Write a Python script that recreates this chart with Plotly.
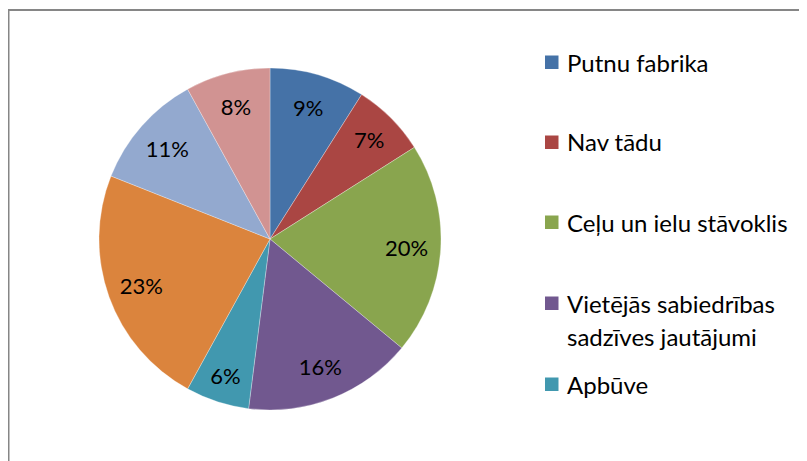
import plotly.graph_objects as go

# Data
categories = ["Putnu fabrika", "Nav tādu", "Ceļu un ielu stāvoklis",
              "Vietējās sabiedrības sadzīves jautājumi", "Apbūve",
              "Kategorija 6", "Kategorija 7", "Kategorija 8"]
values = [9, 7, 20, 16, 6, 23, 11, 8]
colors = ["#4572A7", "#AA4643", "#89A54E", "#71588F", "#4198AF",
          "#DB843D", "#93A9CF", "#D19392"]

# Legend entries visible in the reference (the rest is cut off)
legend_lines = [["Putnu fabrika"], ["Nav tādu"], ["Ceļu un ielu stāvoklis"],
                ["Vietējās sabiedrības", "sadzīves jautājumi"], ["Apbūve"]]

W, H = 807, 461
OFF = 8  # page body margin offset
FONT = "Lato"


def px(x):
    return (x - OFF) / W


def py(y):
    return 1 - (y - OFF) / H


dom = dict(x=[px(99), px(441)], y=[py(410), py(68)])

fig = go.Figure()
fig.add_trace(go.Pie(
    labels=categories, values=values, sort=False, direction="clockwise",
    rotation=0, marker=dict(colors=colors, line=dict(color="white", width=0.3)),
    textinfo="none", domain=dom, showlegend=False, hoverinfo="label+percent",
))
# transparent ring carrying the percentage labels (places them at ~0.8 radius)
fig.add_trace(go.Pie(
    labels=categories, values=values, sort=False, direction="clockwise",
    rotation=0, hole=0.6,
    marker=dict(colors=["rgba(0,0,0,0)"] * len(values), line=dict(width=0)),
    texttemplate="%{percent:.0%}", textposition="inside",
    insidetextorientation="horizontal",
    insidetextfont=dict(color="black", size=22, family=FONT),
    domain=dom, showlegend=False, hoverinfo="skip",
))

shapes = [dict(type="rect", xref="paper", yref="paper",
               x0=px(8.5), x1=1.05, y0=-0.2, y1=py(10),
               line=dict(color="#868686", width=2), fillcolor="rgba(0,0,0,0)")]
annotations = []
item_y = [62, 142, 222, 303, 384]
for i, (lines, yc) in enumerate(zip(legend_lines, item_y)):
    shapes.append(dict(type="rect", xref="paper", yref="paper",
                       x0=px(545), x1=px(558.5),
                       y0=py(yc + 7), y1=py(yc - 6.5),
                       line=dict(width=0), fillcolor=colors[i]))
    for j, txt in enumerate(lines):
        annotations.append(dict(text=txt, xref="paper", yref="paper",
                                x=px(565), y=py(yc + 33 * j),
                                xanchor="left", yanchor="middle", showarrow=False,
                                font=dict(family=FONT, size=24, color="black")))

fig.update_layout(width=W, height=H, margin=dict(l=0, r=0, t=0, b=0),
                  paper_bgcolor="white", plot_bgcolor="white",
                  shapes=shapes, annotations=annotations)
fig.write_html("out.html")
